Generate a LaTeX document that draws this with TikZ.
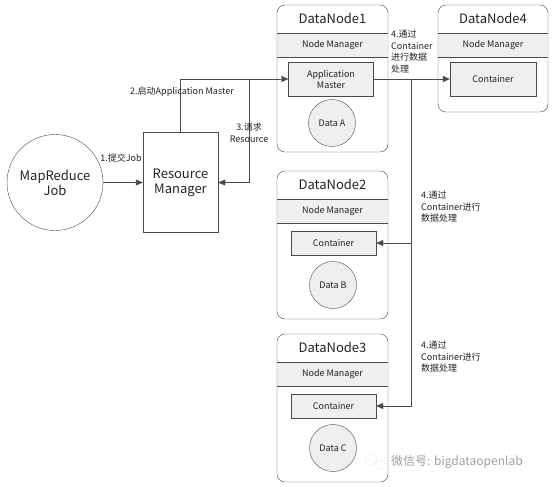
\documentclass[tikz,border=0pt]{standalone}
\usepackage{fontspec}
\setmainfont{Noto Sans CJK SC}
\usetikzlibrary{arrows.meta,positioning,calc}
\definecolor{YarnLine}{HTML}{4A4A4A}
\definecolor{YarnFill}{HTML}{EFEFEF}
\definecolor{YarnText}{HTML}{222222}

\begin{document}
\begin{tikzpicture}[x=1pt, y=-1pt, text=YarnText, font=\fontsize{9}{11}\selectfont,
  dn/.style={draw=YarnLine, rounded corners=8pt, minimum width=111pt, inner sep=0pt},
  band/.style={fill=YarnFill, minimum width=110pt, minimum height=24pt, inner sep=0pt},
  inbox/.style={draw=YarnLine, fill=YarnFill, minimum width=85pt, inner sep=0pt, align=center},
  datac/.style={circle, draw=YarnLine, fill=YarnFill, minimum size=47pt, inner sep=0pt},
  hdr/.style={font=\fontsize{13}{15}\selectfont},
  flow/.style={-{Triangle[length=7pt,width=6pt]}, YarnLine, thin},
  lbl/.style={align=left, inner sep=0pt, font=\fontsize{9}{11.5}\selectfont}]
\useasboundingbox (0,0) rectangle (554,487);
%% client and resource manager
\node[circle, draw=YarnLine, minimum size=96pt, align=center, font=\fontsize{13}{15}\selectfont]
  (mr) at (55,182.5) {MapReduce\\Job};
\node[draw=YarnLine, minimum width=75pt, minimum height=100pt, align=center, font=\fontsize{13}{15}\selectfont]
  (rm) at (180.5,182.5) {Resource\\Manager};
%% DataNode1 holds the application master
\node[dn, minimum height=147pt] (dn1) at (332.5,78.5) {};
\node[hdr] (hd1) at (332.5,18) {DataNode1};
\node[band] (nm1) at (332.5,45) {Node Manager};
\node[inbox, minimum height=34pt] (am) at (331,79) {Application\\Master};
\node[datac] (da) at (332,123) {Data A};
%% DataNode4
\node[dn, minimum width=110pt, minimum height=107pt] (dn4) at (493,58.5) {};
\node[hdr] (hd4) at (493,18) {DataNode4};
\node[band, minimum width=109pt] (nm4) at (493,45) {Node Manager};
\node[inbox, minimum width=86pt, minimum height=34pt] (ct4) at (493,79) {Container};
%% DataNode2 and DataNode3 share one layout
\foreach \k/\t/\d in {2/171/B, 3/334/C}{
  \node[dn, minimum height=148pt] (dn\k) at (332.5,\t+74) {};
  \node[hdr] (hd\k) at (332.5,\t+13) {DataNode\k};
  \node[band] (nm\k) at (332.5,\t+40) {Node Manager};
  \node[inbox, minimum height=24pt] (ct\k) at (333.5,\t+72) {Container};
  \node[datac] (d\d) at (333,\t+114) {Data \d};
}
\foreach \b in {nm1,nm2,nm3,nm4}
  \draw[YarnLine] (\b.north west) -- (\b.north east) (\b.south west) -- (\b.south east);
%% connectors
\coordinate (j3) at (249,79);
\coordinate (j4) at (411,79);
\draw[flow] (mr) -- (rm);
\draw[flow] (rm.north) |- (am.west);
\draw[flow] (j3) |- (rm.east);
\draw[flow] (am.east) -- (ct4.west);
\draw[flow] (j4) |- (ct2.east);
\draw[flow] (j4) |- (ct3.east);
%% labels
\node[lbl] (l1) at (121,158) {1.提交Job};
\node[lbl] (l2) at (182,92) {2.启动Application Master};
\node[lbl, align=center] (l3) at (249,133) {3.请求\\Resource};
\node[lbl, anchor=north west] (l4a) at (391,30) {4.通过\\Container\\进行数据\\处理};
\node[lbl, anchor=north west] (l4b) at (421,191) {4.通过\\Container进行\\数据处理};
\node[lbl, anchor=north west] (l4c) at (421,341) {4.通过\\Container进行\\数据处理};
%% watermark
\draw[gray!45, densely dotted] (371,459) circle (6pt) (380,465) circle (5pt);
\node[anchor=west, inner sep=0pt, text=gray!75, font=\fontsize{12}{13}\selectfont] (wm) at (391,462) {微信号: bigdataopenlab};
\end{tikzpicture}
\end{document}
